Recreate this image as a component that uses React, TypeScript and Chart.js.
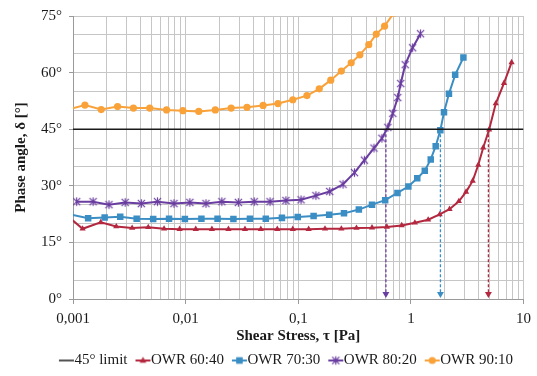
import React, { useEffect, useRef } from "react";
import { Chart, registerables } from "chart.js";

Chart.register(...registerables);

// ---------- data ----------
const seriesNames = ["OWR 60:40", "OWR 70:30", "OWR 80:20", "OWR 90:10"];
const limitLabel = "45° limit";
const limitValue = 45;

const xTickValues = [0.001, 0.01, 0.1, 1, 10];
const xTickLabels = ["0,001", "0,01", "0,1", "1", "10"];
const yTickValues = [0, 15, 30, 45, 60, 75];
const yTickLabels = ["0°", "15°", "30°", "45°", "60°", "75°"];

const owr6040Stress = [0.000886, 0.001217, 0.001763, 0.002423, 0.003349, 0.004657, 0.00644, 0.008845, 0.0123, 0.01712, 0.024, 0.03365, 0.04653, 0.06511, 0.08947, 0.1237, 0.1728, 0.2413, 0.3288, 0.4517, 0.6121, 0.8294, 1.0854, 1.4237, 1.8003, 2.2044, 2.6667, 3.0909, 3.54, 3.964, 4.387, 4.953, 5.674, 6.711, 7.844];
const owr6040Phase = [22.1, 18.6, 20.3, 19.2, 18.8, 19.0, 18.6, 18.5, 18.5, 18.5, 18.5, 18.5, 18.5, 18.5, 18.5, 18.5, 18.6, 18.6, 18.8, 18.9, 19.1, 19.5, 20.2, 21.0, 22.4, 23.8, 25.9, 28.4, 31.3, 35.5, 40.1, 44.9, 51.8, 57.2, 62.7];

const owr7030Stress = [0.000941, 0.001363, 0.00191, 0.002627, 0.003675, 0.005153, 0.007124, 0.00985, 0.01381, 0.01921, 0.02656, 0.03724, 0.05149, 0.07161, 0.099, 0.1369, 0.1881, 0.2548, 0.3451, 0.4517, 0.5914, 0.7602, 0.9497, 1.1395, 1.329, 1.501, 1.661, 1.826, 1.968, 2.178, 2.474, 2.927];
const owr7030Phase = [22.4, 21.4, 21.6, 21.8, 21.3, 21.2, 21.3, 21.2, 21.3, 21.3, 21.2, 21.3, 21.3, 21.5, 21.7, 22.0, 22.3, 22.7, 23.7, 25.0, 26.2, 28.1, 29.8, 32.0, 34.0, 37.0, 40.5, 44.7, 49.5, 54.4, 59.4, 64.0];

const owr8020Stress = [0.001078, 0.001508, 0.002085, 0.002906, 0.004044, 0.005622, 0.007884, 0.0109, 0.01516, 0.02096, 0.02938, 0.04063, 0.05616, 0.07766, 0.1058, 0.1434, 0.1904, 0.2497, 0.3157, 0.3867, 0.4705, 0.5534, 0.6246, 0.6912, 0.7645, 0.8127, 0.8903, 1.036, 1.218];
const owr8020Phase = [25.8, 25.8, 25.0, 25.6, 25.3, 25.8, 25.3, 25.6, 25.3, 25.8, 25.6, 25.8, 25.8, 26.1, 26.3, 27.4, 28.5, 30.4, 33.5, 36.8, 40.0, 42.6, 45.5, 49.2, 53.4, 57.1, 62.1, 66.6, 70.3];

const owr9010Stress = [0.00093, 0.001276, 0.00178, 0.002487, 0.003439, 0.004801, 0.006774, 0.009459, 0.01308, 0.01834, 0.02535, 0.03505, 0.04875, 0.06604, 0.08947, 0.1195, 0.1536, 0.1943, 0.2413, 0.2953, 0.3523, 0.4226, 0.4929, 0.5843, 0.7047];
const owr9010Phase = [50.3, 51.4, 50.2, 51.0, 50.6, 50.6, 50.1, 49.9, 49.7, 50.1, 50.6, 50.8, 51.3, 51.8, 52.8, 53.9, 55.7, 58.0, 60.4, 62.6, 64.7, 67.4, 70.2, 72.3, 75.8];

// stress where each curve reaches the 45° limit (60:40, 70:30, 80:20)
const crossingStress = [4.88, 1.83, 0.6];
const arrowEndPhase = 1.3;

const colors = ["#B3283F", "#3B8EC4", "#6A3DA0", "#F9A23A"];
const FONT = "'Liberation Serif', 'Times New Roman', serif";

type Shape = "triangle" | "rect" | "star" | "circle";
const shapes: Shape[] = ["triangle", "rect", "star", "circle"];

function drawMarker(g: CanvasRenderingContext2D, shape: Shape, cx: number, cy: number, color: string) {
  g.fillStyle = color;
  g.strokeStyle = color;
  if (shape === "circle") {
    g.beginPath();
    g.arc(cx, cy, 3.6, 0, Math.PI * 2);
    g.fill();
  } else if (shape === "rect") {
    g.fillRect(cx - 3.3, cy - 3.3, 6.6, 6.6);
  } else if (shape === "triangle") {
    g.beginPath();
    g.moveTo(cx, cy - 3.8);
    g.lineTo(cx + 3.3, cy + 2.2);
    g.lineTo(cx - 3.3, cy + 2.2);
    g.closePath();
    g.fill();
  } else {
    g.lineWidth = 1.2;
    const r = 3.6;
    g.beginPath();
    g.moveTo(cx - r, cy - r);
    g.lineTo(cx + r, cy + r);
    g.moveTo(cx + r, cy - r);
    g.lineTo(cx - r, cy + r);
    g.moveTo(cx, cy - r - 0.6);
    g.lineTo(cx, cy + r + 0.6);
    g.stroke();
  }
}

function makeStarImage(color: string) {
  const c = document.createElement("canvas");
  c.width = 11;
  c.height = 11;
  const g = c.getContext("2d")!;
  drawMarker(g, "star", 5.5, 5.5, color);
  return c;
}

function makeLegendImage(color: string, shape: Shape | null, lineW: number) {
  const c = document.createElement("canvas");
  c.width = 30;
  c.height = 16;
  const g = c.getContext("2d")!;
  g.strokeStyle = color;
  g.lineWidth = lineW;
  g.beginPath();
  g.moveTo(11, 8);
  g.lineTo(26, 8);
  g.stroke();
  if (shape) drawMarker(g, shape, 18.5, 8, color);
  return c;
}

function isClose(a: number, b: number) {
  return Math.abs(Math.log10(a) - Math.log10(b)) < 1e-6;
}

export default function App() {
  const ref = useRef<HTMLCanvasElement | null>(null);

  useEffect(() => {
    if (!ref.current) return;
    const stresses = [owr6040Stress, owr7030Stress, owr8020Stress, owr9010Stress];
    const phases = [owr6040Phase, owr7030Phase, owr8020Phase, owr9010Phase];
    const starImg = makeStarImage(colors[2]);

    const seriesSets = seriesNames.map((name, i) => ({
      label: name,
      data: stresses[i].map((x, j) => ({ x, y: phases[i][j] })),
      borderColor: colors[i],
      backgroundColor: colors[i],
      borderWidth: 2,
      pointStyle: shapes[i] === "star" ? (starImg as any) : shapes[i],
      pointRadius: shapes[i] === "rect" ? 4.6 : shapes[i] === "triangle" ? 3.6 : 3.6,
      pointBorderWidth: 0,
      tension: 0,
    }));

    const limitSet = {
      label: limitLabel,
      data: [
        { x: xTickValues[0], y: limitValue },
        { x: xTickValues[xTickValues.length - 1], y: limitValue },
      ],
      borderColor: "#1a1a1a",
      backgroundColor: "#1a1a1a",
      borderWidth: 1.5,
      pointRadius: 0,
    };

    const arrowSets = crossingStress.map((x, i) => ({
      label: "arrow" + i,
      data: [
        { x, y: limitValue },
        { x, y: arrowEndPhase },
      ],
      borderColor: colors[i],
      backgroundColor: colors[i],
      borderWidth: 1.3,
      borderDash: [3, 2],
      pointStyle: "triangle",
      rotation: 180,
      pointRadius: [0, 4],
      pointBorderWidth: 0,
    }));

    const legendImgs = [
      makeLegendImage("#1a1a1a", null, 1.5),
      ...seriesNames.map((_, i) => makeLegendImage(colors[i], shapes[i], 2)),
    ];
    const legendTexts = [limitLabel, ...seriesNames];

    const legendShift = {
      id: "legendShift",
      afterLayout(chart: any) {
        const l = chart.legend;
        if (!l) return;
        l.left += 22;
        l.right += 22;
        l.top += 2;
        l.bottom += 2;
      },
    };

    const chart = new Chart(ref.current, {
      type: "line",
      data: { datasets: [limitSet, ...seriesSets, ...arrowSets] as any },
      plugins: [legendShift],
      options: {
        animation: false,
        responsive: false,
        devicePixelRatio: 1,
        layout: { padding: { top: 14, right: 9, left: 0, bottom: 0 } },
        plugins: {
          tooltip: { enabled: false },
          legend: {
            position: "bottom",
            labels: {
              usePointStyle: true,
              pointStyleWidth: 8,
              padding: 8,
              color: "#1a1a1a",
              font: { family: FONT, size: 15 },
              generateLabels: () =>
                legendTexts.map((t, i) => ({
                  text: t,
                  pointStyle: legendImgs[i] as any,
                  fillStyle: "rgba(0,0,0,0)",
                  strokeStyle: "rgba(0,0,0,0)",
                  lineWidth: 0,
                  hidden: false,
                  datasetIndex: i,
                  fontColor: "#1a1a1a",
                })),
            },
          },
        },
        scales: {
          x: {
            type: "logarithmic",
            min: xTickValues[0],
            max: xTickValues[xTickValues.length - 1],
            afterBuildTicks: (scale: any) => {
              const vals: number[] = [];
              for (let d = 0; d < xTickValues.length - 1; d++) {
                for (let k = 1; k <= 9; k++) vals.push(xTickValues[d] * k);
              }
              vals.push(xTickValues[xTickValues.length - 1]);
              scale.ticks = vals.map((v) => ({ value: v }));
            },
            afterFit: (scale: any) => {
              scale.height = 44;
            },
            ticks: {
              autoSkip: false,
              maxRotation: 0,
              padding: 6,
              color: "#1a1a1a",
              font: { family: FONT, size: 15 },
              callback: (v: any) => {
                const idx = xTickValues.findIndex((t) => isClose(t, Number(v)));
                return idx >= 0 ? xTickLabels[idx] : "";
              },
            },
            grid: {
              color: "#c6c6c6",
              lineWidth: 1,
              tickLength: 5,
              tickColor: (ctx: any) =>
                ctx.tick && xTickValues.some((t) => isClose(t, ctx.tick.value)) ? "#9a9a9a" : "rgba(0,0,0,0)",
            },
            border: { display: true, color: "#9a9a9a", width: 1 },
            title: {
              display: true,
              text: "Shear Stress, τ [Pa]",
              color: "#1a1a1a",
              font: { family: FONT, size: 15, weight: "bold" },
              padding: { top: 0, bottom: -2.5 },
            },
          },
          y: {
            type: "linear",
            min: 0,
            max: 75,
            afterFit: (scale: any) => {
              scale.width = 73;
            },
            ticks: {
              stepSize: 5,
              autoSkip: false,
              padding: 7,
              color: "#1a1a1a",
              font: { family: FONT, size: 15 },
              callback: (v: any) => {
                const idx = yTickValues.indexOf(Number(v));
                return idx >= 0 ? yTickLabels[idx] : "";
              },
            },
            grid: {
              color: "#c6c6c6",
              lineWidth: 1,
              tickLength: 4,
              tickColor: (ctx: any) =>
                ctx.tick && yTickValues.indexOf(ctx.tick.value) >= 0 ? "#9a9a9a" : "rgba(0,0,0,0)",
            },
            border: { display: true, color: "#9a9a9a", width: 1 },
            title: {
              display: true,
              text: "Phase angle, δ [°]",
              color: "#1a1a1a",
              font: { family: FONT, size: 15, weight: "bold" },
              padding: { top: 12, bottom: 0 },
            },
          },
        },
      } as any,
    });
    return () => chart.destroy();
  }, []);

  return (
    <div style={{ position: "absolute", left: 0, top: 0, width: 537, height: 376, background: "#fff" }}>
      <canvas ref={ref} width={537} height={376} style={{ width: 537, height: 376, display: "block" }} />
    </div>
  );
}
